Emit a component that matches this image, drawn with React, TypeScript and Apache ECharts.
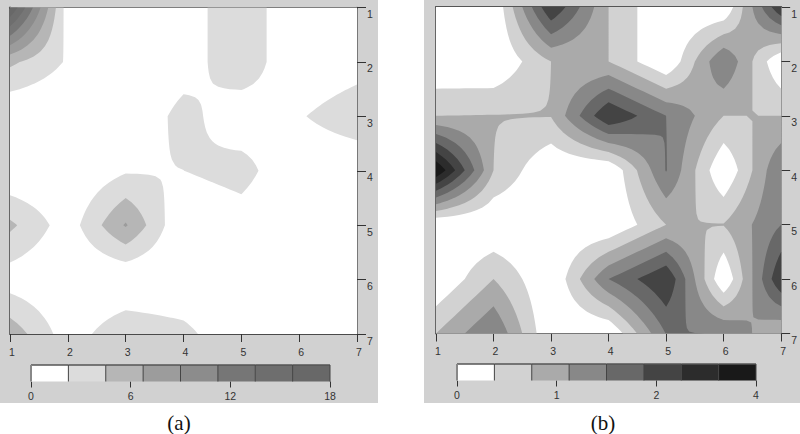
import React, { useEffect, useRef } from "react";
import * as echarts from "echarts";

const nodeTicks = [1, 2, 3, 4, 5, 6, 7];

// rows are y = 1..7 (top to bottom), columns are x = 1..7
const gridA = [
  [18, 1, 0, 1, 4, 0, 0],
  [5, 2, 0, 1, 4, 0, 1],
  [0, 0, 0, 3.1, 0.6, 2, 4],
  [0, 0, 2, 2.24, 3.2, 0, 0],
  [5, 1, 7, 0, 1, 0, 0],
  [1, 0, 0, 0, 0, 0, 0],
  [6, 1, 4, 3, 0, 0, 0],
];
const gridB = [
  [0, 0, 3, 1, 0, 0, 3],
  [0, 0, 1, 1, 0, 2, 0],
  [1, 1.02, 1.02, 3, 2, 1, 1],
  [4, 1, 0, 0, 2.03, 0, 2],
  [0, 0, 0, 0, 1, 1.02, 2],
  [0, 1, 0, 2, 3, 0, 3],
  [1, 2, 0, 0, 2.02, 1.99, 1],
];
const levelsA = [0, 2.25, 4.5, 6.75, 9, 11.25, 13.5, 15.75];
const levelsB = [0, 0.5, 1, 1.5, 2, 2.5, 3, 3.5];
const coloursA = ["#ffffff", "#dcdcdc", "#b6b6b6", "#9c9c9c", "#8c8c8c", "#767676", "#6e6e6e", "#686868"];
const coloursB = ["#ffffff", "#d2d2d2", "#aaaaaa", "#888888", "#686868", "#444444", "#2c2c2c", "#191919"];
const barLabelsA = ["0", "6", "12", "18"];
const barLabelsB = ["0", "1", "2", "4"];
const captions = ["(a)", "(b)"];

const SUB = 10;
const FONT = "Liberation Sans";

function valueAt(grid: number[][], x: number, y: number) {
  const c = Math.min(Math.floor(x), 6);
  const r = Math.min(Math.floor(y), 6);
  const s = x - c, t = y - r;
  const top = grid[r - 1][c - 1] * (1 - s) + grid[r - 1][c] * s;
  const bottom = grid[r][c - 1] * (1 - s) + grid[r][c] * s;
  return top * (1 - t) + bottom * t;
}

function bandRenderer(grid: number[][], levels: number[], colours: string[]) {
  return (params: any, api: any) => {
    const level = levels[params.dataIndex];
    const colour = colours[params.dataIndex];
    let d = "";
    let minX = Infinity, minY = Infinity, maxX = -Infinity, maxY = -Infinity;
    const addPoly = (pts: number[][]) => {
      pts.forEach((p, i) => {
        const q = api.coord([p[0], p[1]]);
        const px = +q[0].toFixed(2), py = +q[1].toFixed(2);
        minX = Math.min(minX, px); maxX = Math.max(maxX, px);
        minY = Math.min(minY, py); maxY = Math.max(maxY, py);
        d += (i === 0 ? "M" : "L") + px + " " + py + " ";
      });
      d += "Z ";
    };
    const count = 6 * SUB;
    const pos = (i: number) => 1 + i / SUB;
    for (let j = 0; j < count; j++) {
      let run = -1;
      for (let i = 0; i <= count; i++) {
        let full = false;
        let corners: number[][] = [];
        if (i < count) {
          corners = [
            [pos(i), pos(j)],
            [pos(i + 1), pos(j)],
            [pos(i + 1), pos(j + 1)],
            [pos(i), pos(j + 1)],
          ].map((p) => [p[0], p[1], valueAt(grid, p[0], p[1])]);
          full = corners.every((p) => p[2] >= level);
        }
        if (full) {
          if (run < 0) run = i;
          continue;
        }
        if (run >= 0) {
          addPoly([
            [pos(run), pos(j)],
            [pos(i), pos(j)],
            [pos(i), pos(j + 1)],
            [pos(run), pos(j + 1)],
          ]);
          run = -1;
        }
        if (i === count) break;
        const out: number[][] = [];
        for (let k = 0; k < 4; k++) {
          const a = corners[k], b = corners[(k + 1) % 4];
          const ai = a[2] >= level, bi = b[2] >= level;
          if (ai) out.push(a);
          if (ai !== bi) {
            const f = (level - a[2]) / (b[2] - a[2]);
            out.push([a[0] + (b[0] - a[0]) * f, a[1] + (b[1] - a[1]) * f]);
          }
        }
        if (out.length >= 3) addPoly(out);
      }
    }
    if (!d) return null;
    return {
      type: "path",
      shape: { pathData: d, x: minX, y: minY, width: maxX - minX, height: maxY - minY },
      layout: "cover",
      style: { fill: colour, stroke: "none" },
      silent: true,
    };
  };
}

function barRenderer(colours: string[], tickSpan: number) {
  return (params: any, api: any) => {
    const i = params.dataIndex;
    const a = api.coord([(i * tickSpan) / colours.length, 1]);
    const b = api.coord([((i + 1) * tickSpan) / colours.length, 0]);
    const children: any[] = [
      { type: "rect", shape: { x: a[0], y: a[1], width: b[0] - a[0], height: b[1] - a[1] }, style: { fill: colours[i] } },
      { type: "line", shape: { x1: a[0], y1: a[1], x2: b[0], y2: a[1] }, style: { stroke: "#555555", lineWidth: 1.5 } },
      { type: "line", shape: { x1: a[0], y1: a[1], x2: a[0], y2: b[1] }, style: { stroke: i === 0 ? "#888888" : "#444444", lineWidth: i === 0 ? 2 : 1 } },
    ];
    if (i === colours.length - 1) {
      children.push({ type: "line", shape: { x1: b[0], y1: a[1], x2: b[0], y2: b[1] }, style: { stroke: "#444444", lineWidth: 1 } });
    }
    return { type: "group", children };
  };
}

const label = { color: "#333333", fontFamily: FONT, fontSize: 10.5 };

function panelAxes(mainGrid: number, barGrid: number, barLabels: string[]) {
  const xAxis: any[] = [
    {
      gridIndex: mainGrid, type: "value", min: 1, max: 7, interval: 1, position: "bottom",
      splitLine: { show: false },
      axisLine: { show: true, onZero: false, lineStyle: { color: "#4a4a4a", width: 1 } },
      axisTick: { show: true, length: 8, lineStyle: { color: "#333333", width: 1 } },
      axisLabel: { ...label, margin: 12, padding: [0, 0, 0, 4], showMinLabel: true, showMaxLabel: true },
    },
    {
      gridIndex: mainGrid, type: "value", min: 1, max: 7, interval: 1, position: "top",
      splitLine: { show: false }, axisTick: { show: false }, axisLabel: { show: false },
      axisLine: { show: true, onZero: false, lineStyle: { color: "#555555", width: 2 } },
    },
    {
      gridIndex: barGrid, type: "value", min: 0, max: 3, interval: 1, position: "bottom", offset: 1.5,
      splitLine: { show: false }, axisLine: { show: false },
      axisTick: { show: true, length: 6, lineStyle: { color: "#333333", width: 1 } },
      axisLabel: { ...label, margin: 7, showMinLabel: true, showMaxLabel: true, formatter: (v: number) => barLabels[v] },
    },
  ];
  const yAxis: any[] = [
    {
      gridIndex: mainGrid, type: "value", min: 1, max: 7, interval: 1, inverse: true, position: "right",
      splitLine: { show: false },
      axisLine: { show: true, onZero: false, lineStyle: { color: "#5a5a5a", width: 1.5 } },
      axisTick: { show: true, length: 9, lineStyle: { color: "#333333", width: 1 } },
      axisLabel: { ...label, margin: 10, verticalAlign: "top", padding: [1, 0, 0, 0], showMinLabel: true, showMaxLabel: true },
    },
    {
      gridIndex: mainGrid, type: "value", min: 1, max: 7, interval: 1, inverse: true, position: "left",
      splitLine: { show: false }, axisTick: { show: false }, axisLabel: { show: false },
      axisLine: { show: true, onZero: false, lineStyle: { color: "#666666", width: 2 } },
    },
    { gridIndex: barGrid, type: "value", min: 0, max: 1, show: false },
  ];
  return { xAxis, yAxis };
}

export default function App() {
  const ref = useRef<HTMLDivElement>(null);
  useEffect(() => {
    const chart = echarts.init(ref.current!, undefined, { renderer: "svg" });
    const a = panelAxes(0, 1, barLabelsA);
    const b = panelAxes(2, 3, barLabelsB);
    chart.setOption({
      animation: false,
      backgroundColor: "#ffffff",
      grid: [
        { left: 10, top: 7.5, width: 347, height: 326.5, show: true, backgroundColor: "#ffffff", borderWidth: 0 },
        { left: 31, top: 365, width: 299, height: 16.5 },
        { left: 436, top: 7, width: 347, height: 326.5, show: true, backgroundColor: "#ffffff", borderWidth: 0 },
        { left: 457, top: 364, width: 299, height: 16.5 },
      ],
      xAxis: [...a.xAxis, ...b.xAxis],
      yAxis: [...a.yAxis, ...b.yAxis],
      series: [
        {
          type: "custom", coordinateSystem: "cartesian2d", xAxisIndex: 0, yAxisIndex: 0, silent: true, clip: true,
          data: levelsA.map((l) => [l]), renderItem: bandRenderer(gridA, levelsA, coloursA),
        },
        {
          type: "custom", coordinateSystem: "cartesian2d", xAxisIndex: 2, yAxisIndex: 2, silent: true,
          data: coloursA.map((_, i) => [i]), renderItem: barRenderer(coloursA, 3),
        },
        {
          type: "custom", coordinateSystem: "cartesian2d", xAxisIndex: 3, yAxisIndex: 3, silent: true, clip: true,
          data: levelsB.map((l) => [l]), renderItem: bandRenderer(gridB, levelsB, coloursB),
        },
        {
          type: "custom", coordinateSystem: "cartesian2d", xAxisIndex: 5, yAxisIndex: 5, silent: true,
          data: coloursB.map((_, i) => [i]), renderItem: barRenderer(coloursB, 3),
        },
      ],
      graphic: [
        { type: "rect", z: -5, silent: true, shape: { x: 0, y: 0, width: 378, height: 403 }, style: { fill: "#d1d1d1" } },
        { type: "rect", z: -5, silent: true, shape: { x: 424, y: 0, width: 376, height: 403 }, style: { fill: "#d1d1d1" } },
        { type: "text", x: 179, y: 423, silent: true, style: { text: captions[0], fill: "#111111", font: '21px "Liberation Serif"', align: "center", verticalAlign: "middle" } },
        { type: "text", x: 603, y: 423, silent: true, style: { text: captions[1], fill: "#111111", font: '21px "Liberation Serif"', align: "center", verticalAlign: "middle" } },
      ],
    });
    return () => chart.dispose();
  }, []);
  return <div ref={ref} style={{ position: "absolute", left: 0, top: 0, width: 800, height: 434 }} />;
}
